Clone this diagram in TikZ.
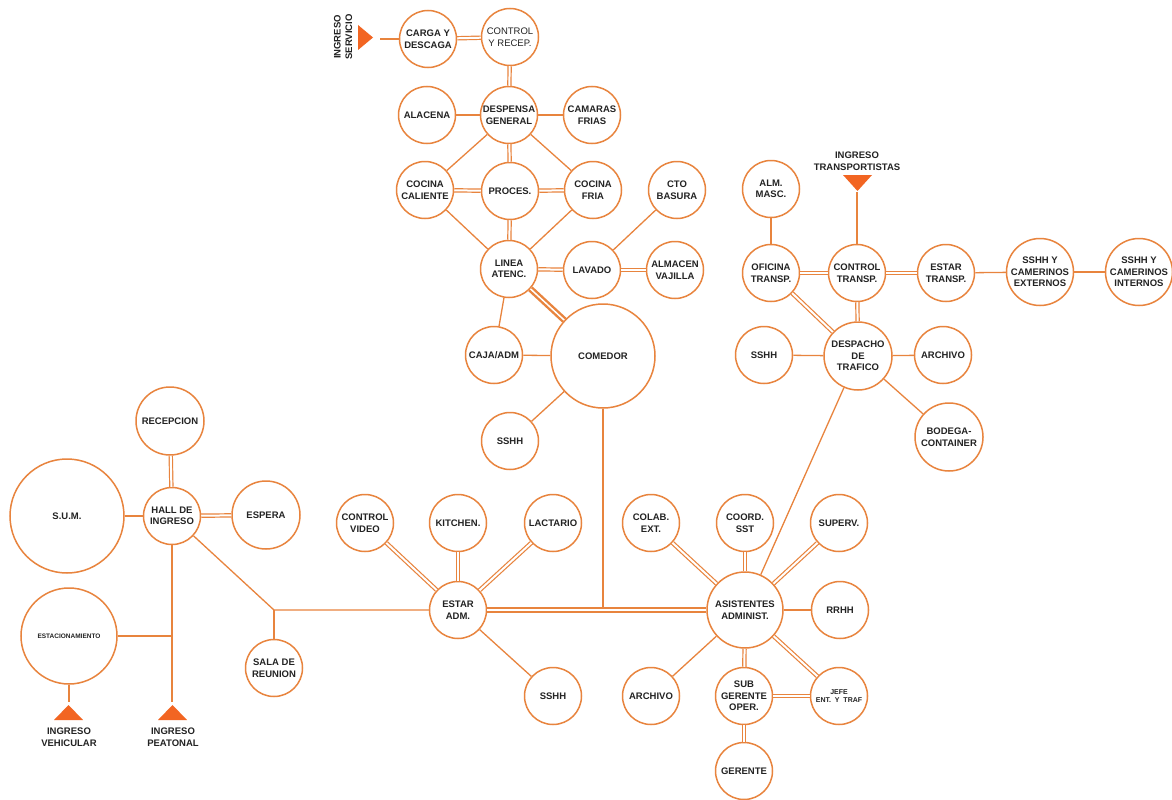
\documentclass[tikz,border=0pt]{standalone}
\usepackage{fontspec}
\setmainfont{Liberation Sans}
\definecolor{oc}{RGB}{232,132,62}
\definecolor{tri}{RGB}{242,101,34}
\definecolor{tx}{RGB}{35,35,35}
\begin{document}
\begin{tikzpicture}[x=1pt,y=-1pt,
  rm/.style={circle,draw=oc,line width=1.5pt,fill=white,inner sep=0pt,minimum size=#1,align=center,text=tx,font=\fontsize{9.5}{11.5}\selectfont\bfseries},
  rm/.default=57,
  sl/.style={draw=oc,line width=1.3pt},
  dl/.style={draw=oc,line width=1.2pt,double=white,double distance=2pt},
  tl/.style={draw=oc,line width=2.4pt,double=white,double distance=1.5pt},
  lbl/.style={text=tx,align=center,font=\fontsize{9.5}{11.5}\selectfont\bfseries}]
\useasboundingbox[fill=white] (0,0) rectangle (1172,800);

% kitchen cluster
\node[rm] (carga) at (428,39) {CARGA Y\\DESCAGA};
\node[rm,font=\fontsize{9.5}{11.5}\selectfont] (crec) at (510,37) {CONTROL\\Y RECEP.};
\node[rm] (desp) at (509,115) {DESPENSA\\GENERAL};
\node[rm] (alac) at (427,115) {ALACENA};
\node[rm] (cam) at (592,115) {CAMARAS\\FRIAS};
\node[rm] (cocc) at (425,190) {COCINA\\CALIENTE};
\node[rm] (proc) at (510,191) {PROCES.};
\node[rm] (cocf) at (593,190) {COCINA\\FRIA};
\node[rm] (cto) at (677,190) {CTO\\BASURA};
\node[rm] (lin) at (509,269) {LINEA\\ATENC.};
\node[rm] (lav) at (592,270) {LAVADO};
\node[rm] (almv) at (675,270) {ALMACEN\\VAJILLA};
\node[rm=104] (com) at (603,356) {COMEDOR};
\node[rm] (caja) at (494,355) {CAJA/ADM};
\node[rm] (ssh1) at (510,441) {SSHH};

% transport cluster
\node[rm] (almm) at (771,189) {ALM.\\MASC.};
\node[rm] (ofic) at (771,273) {OFICINA\\TRANSP.};
\node[rm] (ctrt) at (857,273) {CONTROL\\TRANSP.};
\node[rm] (estt) at (946,273) {ESTAR\\TRANSP.};
\node[rm=67] (sshe) at (1040,272) {SSHH Y\\CAMERINOS\\EXTERNOS};
\node[rm=67] (sshi) at (1139,272) {SSHH Y\\CAMERINOS\\INTERNOS};
\node[rm=68] (desp2) at (858,356) {DESPACHO\\DE\\TRAFICO};
\node[rm] (ssh2) at (764,355) {SSHH};
\node[rm] (arch1) at (943,355) {ARCHIVO};
\node[rm=68] (bod) at (949,437) {BODEGA-\\CONTAINER};

% entrance cluster
\node[rm=68] (recep) at (170,421) {RECEPCION};
\node[rm=114] (sum) at (67,516) {S.U.M.};
\node[rm] (hall) at (172,516) {HALL DE\\INGRESO};
\node[rm=68] (esp) at (266,515) {ESPERA};
\node[rm=96,font=\fontsize{6.5}{8}\selectfont\bfseries] (estac) at (69,636) {ESTACIONAMIENTO};
\node[rm] (sala) at (274,668) {SALA DE\\REUNION};

% admin cluster
\node[rm] (cvid) at (365,523) {CONTROL\\VIDEO};
\node[rm] (kit) at (458,523) {KITCHEN.};
\node[rm] (lact) at (553,523) {LACTARIO};
\node[rm] (estar) at (458,610) {ESTAR\\ADM.};
\node[rm] (ssh3) at (553,696) {SSHH};
\node[rm] (colab) at (651,523) {COLAB.\\EXT.};
\node[rm] (coord) at (745,523) {COORD.\\SST};
\node[rm] (superv) at (839,523) {SUPERV.};
\node[rm=76] (asist) at (745,610) {ASISTENTES\\ADMINIST.};
\node[rm] (rrhh) at (840,610) {RRHH};
\node[rm] (arch2) at (651,696) {ARCHIVO};
\node[rm] (sub) at (744,696) {SUB\\GERENTE\\OPER.};
\node[rm,font=\fontsize{7}{8.5}\selectfont\bfseries] (jefe) at (839,696) {JEFE\\ENT.~ Y~ TRAF};
\node[rm] (ger) at (744,771) {GERENTE};

% entrances
\node[lbl,rotate=90] (ings) at (343,37) {INGRESO\\SERVICIO};
\node[lbl] (ingt) at (857,161) {INGRESO\\TRANSPORTISTAS};
\node[lbl] (ingv) at (69,737) {INGRESO\\VEHICULAR};
\node[lbl] (ingp) at (173,737) {INGRESO\\PEATONAL};
\fill[tri] (358,25) -- (373,37.5) -- (358,50) -- cycle;
\fill[tri] (843,175) -- (872,175) -- (857.5,191) -- cycle;
\fill[tri] (54,720) -- (83,720) -- (68.5,705) -- cycle;
\fill[tri] (158,720) -- (187,720) -- (172.5,705) -- cycle;
\coordinate (st) at (380,39);
\coordinate (tt) at (857,192);
\coordinate (vt) at (69,702);
\coordinate (pt) at (172,702);
\coordinate (ej) at (172,636);
\coordinate (jn) at (274,610);
\coordinate (cj) at (603,607);

% kitchen edges
\draw[sl] (st) -- (carga);
\draw[dl] (carga) -- (crec);
\draw[dl] (crec) -- (desp);
\draw[sl] (desp) -- (alac);
\draw[sl] (desp) -- (cam);
\draw[dl] (desp) -- (proc);
\draw[sl] (desp) -- (cocc);
\draw[sl] (desp) -- (cocf);
\draw[dl] (cocc) -- (proc);
\draw[dl] (proc) -- (cocf);
\draw[dl] (proc) -- (lin);
\draw[sl] (cocc) -- (lin);
\draw[sl] (cocf) -- (lin);
\draw[dl] (lin) -- (lav);
\draw[dl] (lav) -- (almv);
\draw[sl] (lav) -- (cto);
\draw[tl] (lin) -- (com);
\draw[sl] (lin) -- (caja);
\draw[sl] (caja) -- (com);
\draw[sl] (com) -- (ssh1);
\draw[sl] (com) -- (cj);

% transport edges
\draw[sl] (tt) -- (ctrt);
\draw[sl] (almm) -- (ofic);
\draw[dl] (ofic) -- (ctrt);
\draw[dl] (ctrt) -- (estt);
\draw[sl] (estt) -- (sshe);
\draw[sl] (sshe) -- (sshi);
\draw[dl] (ctrt) -- (desp2);
\draw[dl] (ofic) -- (desp2);
\draw[sl] (desp2) -- (ssh2);
\draw[sl] (desp2) -- (arch1);
\draw[sl] (desp2) -- (bod);
\draw[sl] (desp2) -- (asist);

% entrance edges
\draw[dl] (recep) -- (hall);
\draw[dl] (hall) -- (esp);
\draw[sl] (hall) -- (sum);
\draw[sl] (hall) -- (pt);
\draw[sl] (estac) -- (ej);
\draw[sl] (estac) -- (vt);
\draw[sl] (hall) -- (jn) -- (estar);
\draw[sl] (jn) -- (sala);

% admin edges
\draw[dl] (estar) -- (cvid);
\draw[dl] (estar) -- (kit);
\draw[dl] (estar) -- (lact);
\draw[sl] (estar) -- (ssh3);
\draw[tl] (estar) -- (asist);
\draw[dl] (asist) -- (colab);
\draw[dl] (asist) -- (coord);
\draw[dl] (asist) -- (superv);
\draw[dl] (asist) -- (sub);
\draw[dl] (asist) -- (jefe);
\draw[sl] (asist) -- (rrhh);
\draw[sl] (asist) -- (arch2);
\draw[dl] (sub) -- (jefe);
\draw[dl] (sub) -- (ger);
\end{tikzpicture}
\end{document}
